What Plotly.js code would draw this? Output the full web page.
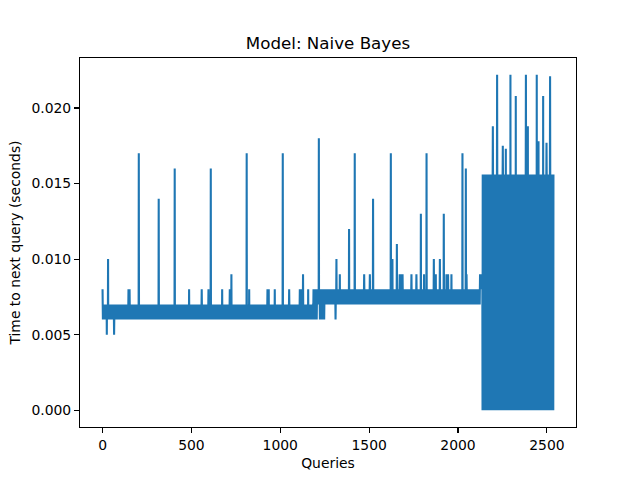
<!DOCTYPE html>
<html>
<head>
<meta charset="utf-8">
<script src="https://cdn.plot.ly/plotly-3.0.1.min.js"></script>
<style>html,body{margin:0;padding:0;background:#fff;}#chart{width:640px;height:480px;}</style>
</head>
<body>
<div id="chart"></div>
<script>
// Number of queries (x = 0 .. lastIndex)
const lastIndex = 2537;

// Baseline bands: the series flips between a lower and an upper timer level in each run
const runStart = [0, 1186, 2123, 2138];
const runEnd   = [1185, 2122, 2137, 2537];
const runLow   = [0.006, 0.007, 0.008, 0.000];
const runHigh  = [0.007, 0.008, 0.009, 0.0156];

// Individual readings that stand out from the band (spikes and dips)
const spikeIdx = [0, 24, 31, 65, 146, 152, 204, 316, 406, 487, 558, 596, 609, 673, 716, 725,
  811, 825, 928, 935, 969, 1014, 1050, 1110, 1120, 1128, 1157, 1195, 1205, 1217, 1223, 1230,
  1240, 1247, 1311, 1316, 1335, 1387, 1419, 1472, 1504, 1522, 1622, 1631, 1656, 1672, 1682,
  1688, 1738, 1766, 1791, 1809, 1823, 1864, 1875, 1898, 1920, 1935, 1944, 1963, 2025, 2044,
  2048, 2196, 2220, 2252, 2269, 2295, 2325, 2382, 2393, 2443, 2453, 2479, 2498, 2518];
const spikeVal = [0.008, 0.005, 0.010, 0.005, 0.008, 0.008, 0.017, 0.014, 0.016, 0.008, 0.008, 0.008, 0.016, 0.008, 0.008, 0.009,
  0.017, 0.008, 0.008, 0.008, 0.008, 0.017, 0.008, 0.008, 0.008, 0.009, 0.008, 0.006, 0.006, 0.018, 0.006, 0.006,
  0.006, 0.006, 0.006, 0.010, 0.009, 0.012, 0.017, 0.009, 0.009, 0.014, 0.017, 0.010, 0.011, 0.009, 0.009,
  0.009, 0.009, 0.009, 0.013, 0.009, 0.017, 0.010, 0.009, 0.010, 0.013, 0.009, 0.009, 0.009, 0.017, 0.016,
  0.009, 0.0188, 0.0222, 0.0175, 0.0173, 0.0222, 0.0208, 0.0222, 0.0188, 0.0222, 0.0178, 0.0208, 0.0177, 0.0221];

// Build the series from the runs and the readings above
const xs = [], ys = [];
for (let r = 0; r < runStart.length; r++) {
  for (let i = runStart[r]; i <= runEnd[r]; i++) {
    xs.push(i);
    ys.push(((i - runStart[r]) % 2 === 0) ? runLow[r] : runHigh[r]);
  }
}
for (let k = 0; k < spikeIdx.length; k++) ys[spikeIdx[k]] = spikeVal[k];

const FONT = 'DejaVu Sans, sans-serif';
const axisCommon = {
  showline: true, linecolor: '#000', linewidth: 1.1, mirror: true,
  ticks: 'outside', ticklen: 4.9, tickwidth: 1.1, tickcolor: '#000',
  showgrid: false, zeroline: false,
  tickfont: {family: FONT, size: 13.9, color: '#000'}
};

const ymax = Math.max(...ys), ymin = Math.min(...ys);
const ypad = 0.05 * (ymax - ymin), xpad = 0.05 * lastIndex;

Plotly.newPlot('chart', [{
  x: xs, y: ys, type: 'scatter', mode: 'lines',
  line: {color: '#1f77b4', width: 2.08, simplify: false},
  hoverinfo: 'skip'
}], {
  width: 640, height: 480,
  margin: {l: 80, r: 64, t: 58, b: 53, pad: 0},
  paper_bgcolor: '#fff', plot_bgcolor: '#fff',
  showlegend: false,
  font: {family: FONT, color: '#000'},
  title: {text: 'Model: Naive Bayes', font: {family: FONT, size: 16.7, color: '#000'},
          xref: 'paper', x: 0.5, xanchor: 'center', yref: 'container', y: 1 - 43/480, yanchor: 'middle'},
  xaxis: Object.assign({}, axisCommon, {
    range: [-xpad, lastIndex + xpad], tick0: 0, dtick: 500,
    title: {text: 'Queries', font: {family: FONT, size: 13.9, color: '#000'}, standoff: 6}
  }),
  yaxis: Object.assign({}, axisCommon, {
    range: [ymin - ypad, ymax + ypad], tick0: 0, dtick: 0.005, tickformat: '.3f',
    title: {text: 'Time to next query (seconds)', font: {family: FONT, size: 13.9, color: '#000'}, standoff: 7}
  })
}, {staticPlot: true, displayModeBar: false});
</script>
</body>
</html>
